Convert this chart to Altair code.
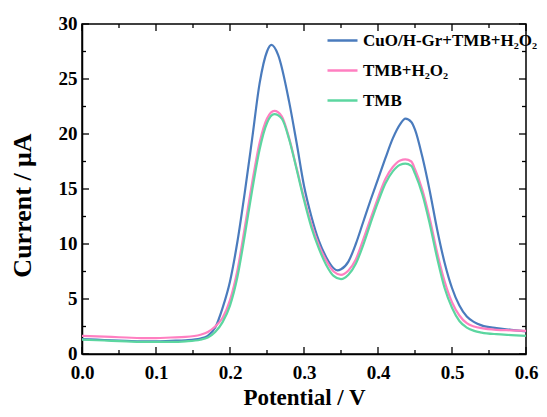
import altair as alt
import pandas as pd

# ---- data ----
series_names = ["CuO/H-Gr+TMB+H₂O₂", "TMB+H₂O₂", "TMB"]
series_colors = ["#4a7bbd", "#ff7fc1", "#5cd6a0"]

blue_x = [0, 0.02, 0.04, 0.06, 0.08, 0.10, 0.12, 0.14, 0.16, 0.17, 0.18, 0.19, 0.20, 0.21,
          0.22, 0.23, 0.24, 0.25, 0.256, 0.265, 0.28, 0.29, 0.30, 0.31, 0.32, 0.33, 0.34,
          0.345, 0.35, 0.36, 0.37, 0.38, 0.39, 0.40, 0.41, 0.42, 0.43, 0.437, 0.445, 0.45,
          0.46, 0.47, 0.48, 0.49, 0.50, 0.51, 0.52, 0.53, 0.54, 0.56, 0.58, 0.60]
blue_y = [1.35, 1.3, 1.25, 1.2, 1.15, 1.15, 1.2, 1.25, 1.4, 1.65, 2.4, 4.2, 6.6, 10.2,
          14.7, 19.6, 24.6, 27.5, 28.1, 27.2, 22.9, 19.2, 15.3, 12.5, 10.3, 8.8, 7.8,
          7.6, 7.7, 8.4, 10.0, 12.0, 14.0, 15.9, 17.8, 19.6, 20.9, 21.4, 21.1, 20.4,
          17.9, 14.8, 11.3, 8.3, 6.0, 4.4, 3.4, 2.9, 2.6, 2.35, 2.2, 2.05]

pink_x = [0, 0.02, 0.04, 0.06, 0.08, 0.10, 0.12, 0.14, 0.16, 0.17, 0.18, 0.19, 0.20, 0.21,
          0.22, 0.23, 0.24, 0.25, 0.26, 0.27, 0.28, 0.29, 0.30, 0.31, 0.32, 0.33, 0.34,
          0.35, 0.36, 0.37, 0.38, 0.39, 0.40, 0.41, 0.42, 0.43, 0.437, 0.445, 0.45,
          0.46, 0.47, 0.48, 0.49, 0.50, 0.51, 0.52, 0.53, 0.54, 0.56, 0.58, 0.60]
pink_y = [1.65, 1.6, 1.55, 1.5, 1.45, 1.45, 1.5, 1.55, 1.75, 2.0, 2.5, 3.3, 4.9, 7.6,
          11.5, 15.6, 19.2, 21.4, 22.1, 21.6, 19.6, 16.9, 14.2, 11.8, 9.9, 8.5, 7.5,
          7.2, 7.6, 8.6, 10.4, 12.3, 14.2, 15.9, 17.0, 17.6, 17.7, 17.5, 16.8,
          14.9, 12.3, 9.2, 6.6, 4.7, 3.5, 2.8, 2.5, 2.35, 2.2, 2.15, 2.1]

green_x = [0, 0.02, 0.04, 0.06, 0.08, 0.10, 0.12, 0.14, 0.16, 0.17, 0.18, 0.19, 0.20, 0.21,
           0.22, 0.23, 0.24, 0.25, 0.26, 0.27, 0.28, 0.29, 0.30, 0.31, 0.32, 0.33, 0.34,
           0.35, 0.36, 0.37, 0.38, 0.39, 0.40, 0.41, 0.42, 0.43, 0.437, 0.445, 0.45,
           0.46, 0.47, 0.48, 0.49, 0.50, 0.51, 0.52, 0.53, 0.54, 0.56, 0.58, 0.60]
green_y = [1.3, 1.25, 1.2, 1.15, 1.1, 1.1, 1.1, 1.15, 1.3, 1.5, 2.0, 2.9, 4.4, 7.0,
           10.8, 14.9, 18.6, 21.0, 21.8, 21.4, 19.5, 16.8, 14.0, 11.5, 9.6, 8.1, 7.1,
           6.8, 7.2, 8.2, 9.9, 11.9, 13.8, 15.5, 16.6, 17.2, 17.3, 17.1, 16.4,
           14.5, 11.8, 8.7, 6.0, 4.2, 3.0, 2.4, 2.1, 1.95, 1.8, 1.72, 1.65]

x_major = [0.0, 0.1, 0.2, 0.3, 0.4, 0.5, 0.6]
x_minor = [0.05, 0.15, 0.25, 0.35, 0.45, 0.55]
y_major = [0, 5, 10, 15, 20, 25, 30]
y_minor = [2.5, 7.5, 12.5, 17.5, 22.5, 27.5]

W, H = 444, 330
FONT = "'Liberation Serif', 'Times New Roman', serif"

xscale = alt.Scale(domain=[0, 0.6], nice=False, zero=False)
yscale = alt.Scale(domain=[0, 30], nice=False, zero=False)

x_axis = alt.Axis(values=x_major, format=".1f", ticks=False, grid=False,
                  domainColor="black", domainWidth=1.5,
                  labelFont=FONT, labelFontWeight="bold", labelFontSize=19,
                  labelColor="black", labelPadding=9, labelFlush=False,
                  title="Potential / V", titleFont=FONT, titleFontSize=23,
                  titleFontWeight="bold", titleColor="black",
                  titleX=W / 2, titleY=50, titleBaseline="alphabetic")
y_axis = alt.Axis(values=y_major, format="d", ticks=False, grid=False,
                  domainColor="black", domainWidth=1.5,
                  labelFont=FONT, labelFontWeight="bold", labelFontSize=19,
                  labelColor="black", labelPadding=5, labelFlush=False,
                  labelOffset=-1,
                  title="Current / μA", titleFont=FONT, titleFontSize=26,
                  titleFontWeight="bold", titleColor="black",
                  titleX=-52, titleY=181, titleAngle=270, titleBaseline="alphabetic")

color = alt.Color("series:N",
                  scale=alt.Scale(domain=series_names, range=series_colors),
                  legend=alt.Legend(orient="none", legendX=244, legendY=0, title=None,
                                    symbolType="stroke", symbolSize=900,
                                    symbolStrokeWidth=2.5, labelFont=FONT,
                                    labelFontSize=17, labelFontWeight="bold",
                                    labelColor="black", labelOffset=4,
                                    rowPadding=5, padding=0, labelLimit=400))

layers = []
for name, xs, ys in [(series_names[0], blue_x, blue_y),
                     (series_names[1], pink_x, pink_y),
                     (series_names[2], green_x, green_y)]:
    df = pd.DataFrame({"potential": xs, "current": ys, "series": name})
    layers.append(
        alt.Chart(df).mark_line(strokeWidth=2.2, interpolate="monotone").encode(
            x=alt.X("potential:Q", scale=xscale, axis=x_axis),
            y=alt.Y("current:Q", scale=yscale, axis=y_axis),
            color=color,
        )
    )

# inward tick marks on all four sides
def xticks(vals, length, top):
    df = pd.DataFrame({"v": vals})
    y0 = 0 if top else H
    y1 = length if top else H - length
    return alt.Chart(df).mark_rule(color="black", strokeWidth=1.3).encode(
        x=alt.X("v:Q", scale=xscale, axis=x_axis),
        y=alt.value(y0), y2=alt.value(y1))

def yticks(vals, length, right):
    df = pd.DataFrame({"v": vals})
    x0 = W if right else 0
    x1 = W - length if right else length
    return alt.Chart(df).mark_rule(color="black", strokeWidth=1.3).encode(
        y=alt.Y("v:Q", scale=yscale, axis=y_axis),
        x=alt.value(x0), x2=alt.value(x1))

tick_layers = [
    xticks(x_major, 7, False), xticks(x_minor, 4, False),
    xticks(x_major, 7, True), xticks(x_minor, 4, True),
    yticks(y_major, 7, False), yticks(y_minor, 4, False),
    yticks(y_major, 7, True), yticks(y_minor, 4, True),
]

chart = alt.layer(*layers, *tick_layers).properties(
    width=W, height=H,
    padding={"left": 74, "top": 16, "right": 13, "bottom": 55},
    autosize=alt.AutoSizeParams(type="none"),
    background="white",
).configure_view(stroke="black", strokeWidth=1.5)

chart.save("out.html", embed_options={"renderer": "svg", "actions": False})
